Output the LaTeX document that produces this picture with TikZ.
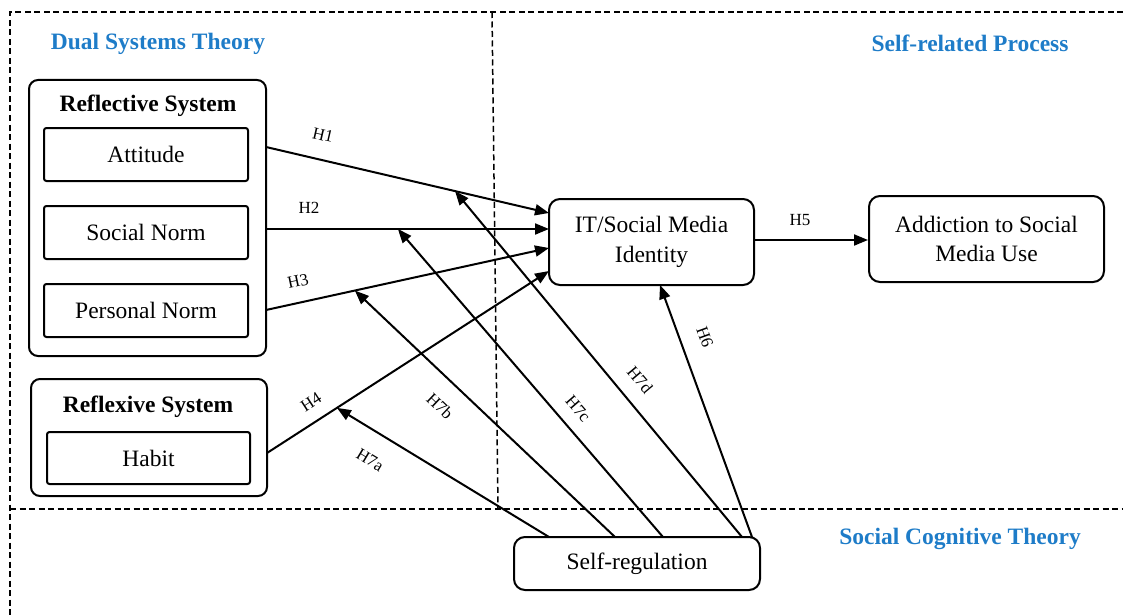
\documentclass[tikz,border=0pt]{standalone}
\usepackage{fontspec}
\setmainfont{Liberation Serif}
\usetikzlibrary{arrows.meta,calc}
\definecolor{titleblue}{RGB}{30,124,200}
\tikzset{
  frameline/.style={line width=1.5pt, dash pattern=on 6pt off 3.5pt},
  outerbox/.style={draw, line width=2pt, rounded corners=9pt, inner sep=0pt},
  innerbox/.style={draw, line width=2pt, rounded corners=2.5pt, inner sep=0pt,
    minimum width=204pt, minimum height=53pt, font=\fontsize{23.5}{28}\selectfont},
  mainbox/.style={draw, line width=2pt, rounded corners=11pt, inner sep=0pt,
    align=center, font=\fontsize{23.5}{29.5}\selectfont},
  systitle/.style={font=\fontsize{23.5}{28}\selectfont\bfseries},
  theorytitle/.style={font=\fontsize{23.5}{28}\selectfont\bfseries, text=titleblue},
  arr/.style={line width=2pt, -{Triangle[length=14pt,width=11pt]}},
  hlab/.style={font=\fontsize{17}{20}\selectfont, inner sep=0pt}
}
\begin{document}
\begin{tikzpicture}[x=1pt,y=-1pt]
\useasboundingbox (0,0) rectangle (1123,615);

% dashed frame
\coordinate (ftl) at (10,12);
\coordinate (ftr) at (1123,12);
\coordinate (fbl) at (10,615);
\coordinate (fml) at (10,509);
\coordinate (fmr) at (1123,509);
\coordinate (fvt) at (492,12);
\coordinate (fvb) at (498,509);
\draw[frameline] (ftr) -- (ftl) -- (fbl);
\draw[frameline] (fml) -- (fmr);
\draw[frameline] (fvt) -- (fvb);

% theory titles
\node[theorytitle] (dst) at (158,44) {Dual Systems Theory};
\node[theorytitle] (srp) at (970,43) {Self-related Process};
\node[theorytitle] (sct) at (960,539) {Social Cognitive Theory};

% reflective system
\node[outerbox, minimum width=237pt, minimum height=276pt] (refl) at (147.5,218) {};
\node[systitle] (refltitle) at (148,106) {Reflective System};
\node[innerbox] (att) at (146,154.5) {Attitude};
\node[innerbox] (soc) at (146,232.5) {Social Norm};
\node[innerbox] (per) at (146,310.5) {Personal Norm};

% reflexive system
\node[outerbox, minimum width=236pt, minimum height=117pt] (reflx) at (149,437.5) {};
\node[systitle] (reflxtitle) at (148,407) {Reflexive System};
\node[innerbox, minimum width=203pt, minimum height=52pt] (hab) at (148.5,458) {Habit};

% main constructs
\node[mainbox, minimum width=205pt, minimum height=86pt] (it) at (651.5,242) {IT/Social Media\\Identity};
\node[mainbox, minimum width=235pt, minimum height=86pt] (add) at (986.5,239) {Addiction to Social\\Media Use};
\node[mainbox, minimum width=246pt, minimum height=53pt] (sr) at (637,563.5) {Self-regulation};

% start / end coordinates
\coordinate (s1) at (266,147);
\coordinate (s2) at (266,229);
\coordinate (s3) at (266,310);
\coordinate (s4) at (267,453);
\coordinate (t1) at (549,213);
\coordinate (t2) at (549,229);
\coordinate (t3) at (549,248);
\coordinate (t4) at (549,271);
\coordinate (t6) at (660,285);

\coordinate (ra) at (549,537);
\coordinate (rb) at (615,537);
\coordinate (rc) at (663,537);
\coordinate (rd) at (742,537);
\coordinate (r6) at (752,537);

% main hypotheses
\draw[arr] (s1) -- (t1);
\draw[arr] (s2) -- (t2);
\draw[arr] (s3) -- (t3);
\draw[arr] (s4) -- (t4);
\draw[arr] (it.east |- 0,240) -- (add.west |- 0,240);
\draw[arr] (r6) -- (t6);

% moderation points
\coordinate (m1) at ($(s1)!0.668!(t1)$);
\coordinate (m2) at ($(s2)!0.466!(t2)$);
\coordinate (m3) at ($(s3)!0.314!(t3)$);
\coordinate (m4) at ($(s4)!0.248!(t4)$);

\draw[arr] (ra) -- (m4);
\draw[arr] (rb) -- (m3);
\draw[arr] (rc) -- (m2);
\draw[arr] (rd) -- (m1);

% labels
\node[hlab, rotate=-13] (h1) at (323,135) {H1};
\node[hlab] (h2) at (309,208) {H2};
\node[hlab, rotate=12] (h3) at (298,281) {H3};
\node[hlab, rotate=33] (h4) at (311,402) {H4};
\node[hlab] (h5) at (800,220) {H5};
\node[hlab, rotate=-70] (h6) at (705,337) {H6};
\node[hlab, rotate=-31] (h7a) at (370,460) {H7a};
\node[hlab, rotate=-43.5] (h7b) at (440,406) {H7b};
\node[hlab, rotate=-49] (h7c) at (578,409) {H7c};
\node[hlab, rotate=-50] (h7d) at (640,380) {H7d};
\end{tikzpicture}
\end{document}
